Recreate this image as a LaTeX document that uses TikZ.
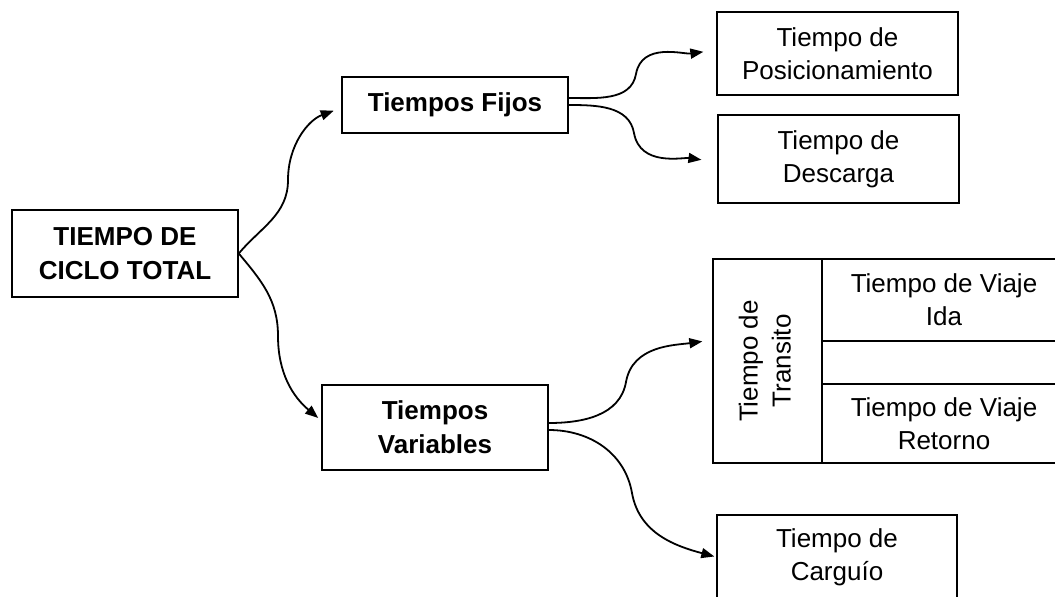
\documentclass[tikz,border=0pt]{standalone}
\usepackage{fontspec}
\setmainfont{Liberation Sans}
\usetikzlibrary{arrows.meta,calc}

\tikzset{
    box/.style={draw, line width=1.5pt, align=center, inner sep=0pt,
        font=\fontsize{26}{33}\selectfont},
    boldbox/.style={box, font=\fontsize{26}{34}\selectfont\bfseries},
    conn/.style={-{Triangle[length=13pt,width=10pt]}, line width=1.8pt}
}

\begin{document}
\begin{tikzpicture}[x=1pt,y=1pt]
        % page frame
        \useasboundingbox (0,0) rectangle (1055,-597);

        % main blocks
        \node[boldbox, minimum width=226, minimum height=87] (total) at (125,-253.5) {TIEMPO DE\\CICLO TOTAL};
        \node[boldbox, minimum width=226, minimum height=56] (fijos) at (455,-105) {Tiempos Fijos};
        \node[boldbox, minimum width=226, minimum height=85] (variables) at (435,-427.5) {Tiempos\\Variables};

        % fixed times
        \node[box, minimum width=241, minimum height=83] (posic) at (837.5,-53.5) {Tiempo de\\Posicionamiento};
        \node[box, minimum width=241, minimum height=88] (desc) at (838.5,-159) {Tiempo de\\Descarga};

        % variable times
        \node[box, minimum width=109, minimum height=204] (transito) at (767.5,-361)
            {\rotatebox{90}{\begin{tabular}{@{}c@{}}Tiempo de\\Transito\end{tabular}}};
        \node[box, minimum width=244, minimum height=82] (ida) at (944,-300) {Tiempo de Viaje\\Ida};
        \node[box, minimum width=244, minimum height=43] (vacio) at (944,-362.5) {};
        \node[box, minimum width=244, minimum height=79] (retorno) at (944,-423.5) {Tiempo de Viaje\\Retorno};
        \node[box, minimum width=240, minimum height=84] (carguio) at (837,-557) {Tiempo de\\Carguío};

        % curved connectors
        \draw[conn, shorten >=8pt] (total.east) to[out=50,in=-90] (288,-180)
            to[out=90,in=200] ([yshift=-3]fijos.west);
        \draw[conn, shorten >=4pt] (total.east) to[out=-50,in=90] (278,-336)
            to[out=-90,in=140] ([yshift=7]variables.west);

        \draw[conn, shorten >=13pt] ([yshift=7]fijos.east) to[out=0,in=-100] (636,-74)
            to[out=80,in=188] ([yshift=3.5]posic.west);
        \draw[conn, shorten >=16pt] (fijos.east) to[out=0,in=100] (634,-133)
            to[out=-80,in=172] ([yshift=-3]desc.west);

        \draw[conn, shorten >=10pt] ([yshift=4.5]variables.east) to[out=0,in=-100] (626,-382)
            to[out=80,in=188] ([yshift=21]transito.west);
        \draw[conn, shorten >=2pt] ([yshift=-2.5]variables.east) to[out=0,in=100] (632,-493)
            to[out=-80,in=165] (carguio.west);
\end{tikzpicture}
\end{document}
